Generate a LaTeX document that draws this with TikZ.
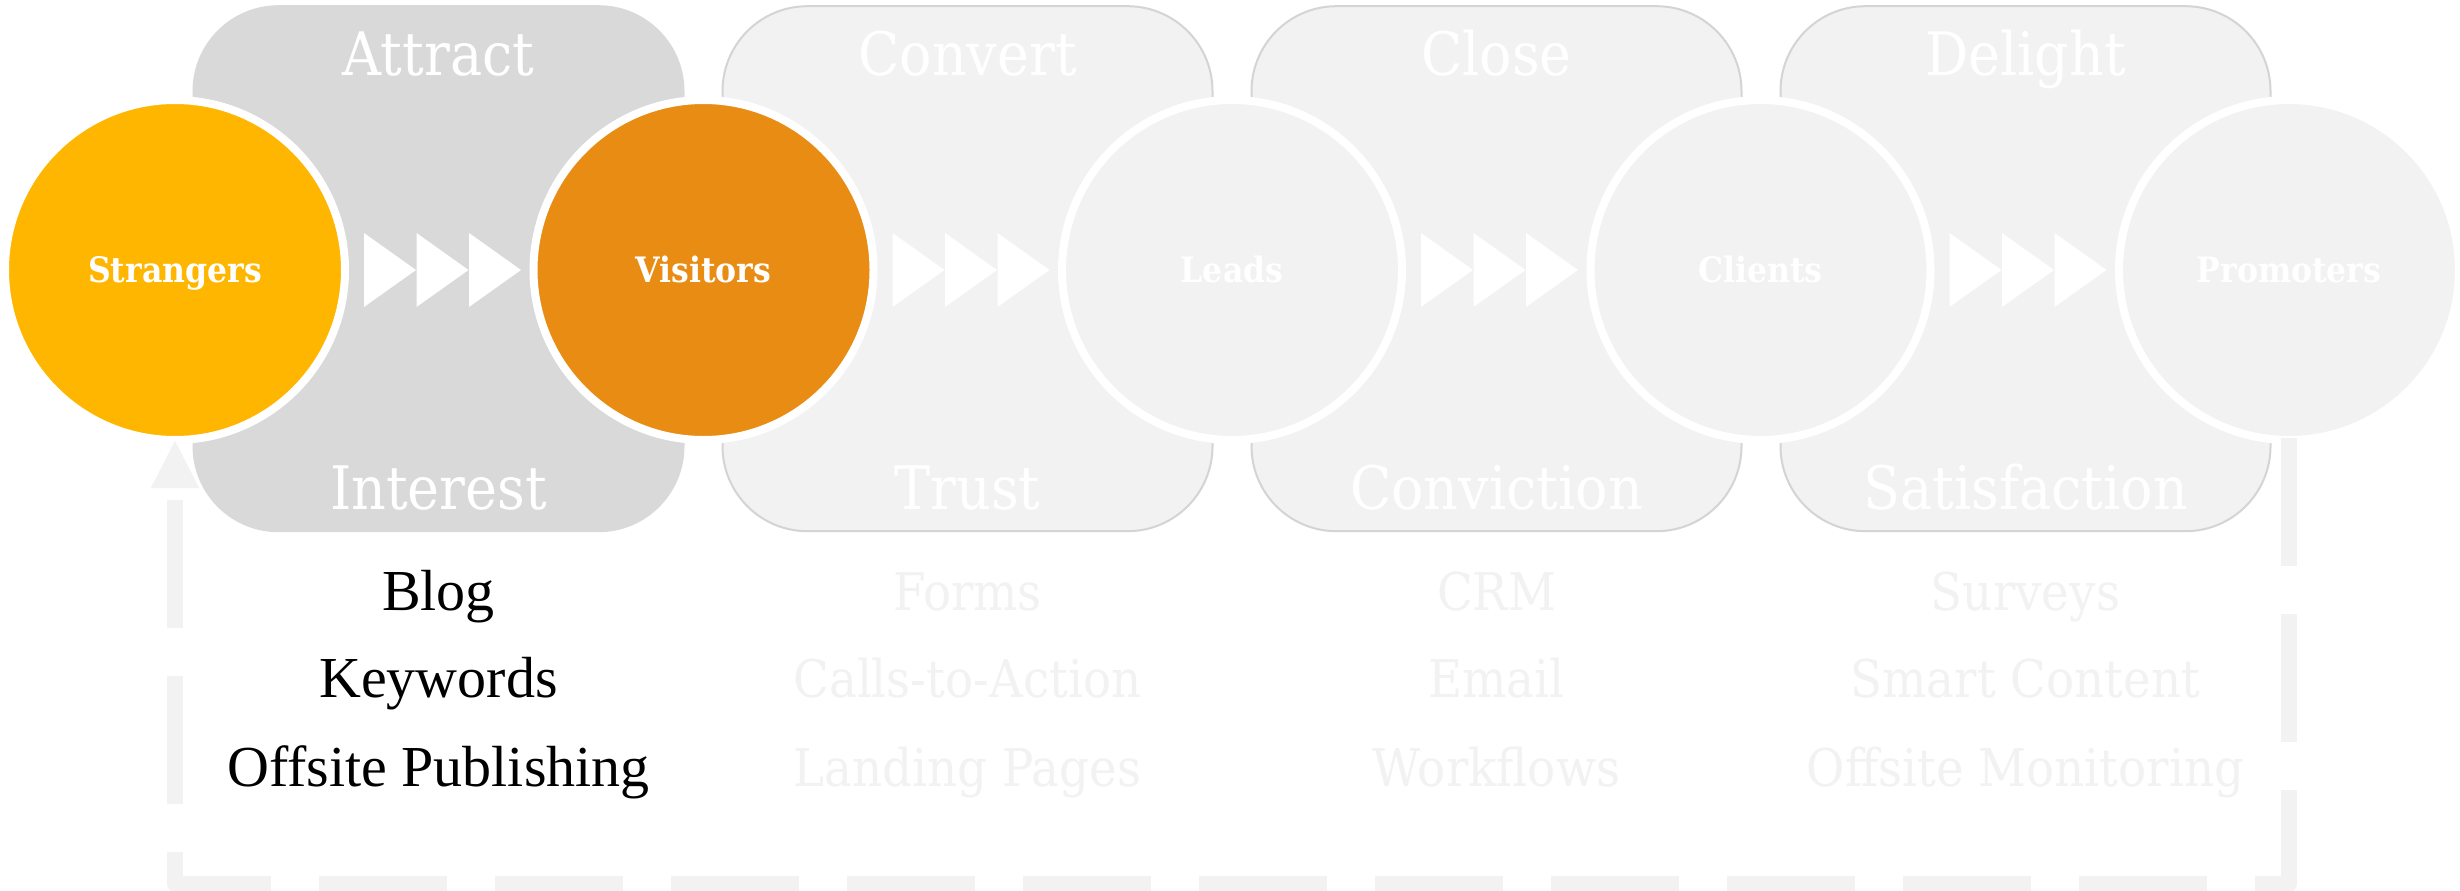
\documentclass[tikz,border=0pt]{standalone}
\usepackage{fontspec}
\setmainfont{Liberation Serif}
\newfontfamily\geo{DejaVu Serif}[FakeStretch=0.9]
\usetikzlibrary{arrows.meta}
\definecolor{amber}{HTML}{FFB600}
\definecolor{orangeC}{HTML}{E88C14}
\definecolor{midgray}{HTML}{D9D9D9}
\definecolor{lightgray}{HTML}{F2F2F2}
\definecolor{edgegray}{HTML}{D4D4D4}
\begin{document}
\begin{tikzpicture}[x=1pt,y=-1pt,
 stagebox/.style={rectangle, rounded corners=85pt, minimum width=490pt, minimum height=525pt, inner sep=0pt, line width=2pt, draw=edgegray, fill=lightgray},
 activebox/.style={stagebox, fill=midgray, draw=midgray},
 person/.style={circle, minimum size=340pt, inner sep=0pt, line width=8pt, draw=white, fill=lightgray, text=white, text height=25pt, text depth=0pt, font=\geo\bfseries\fontsize{35}{42}\selectfont},
 title/.style={anchor=base, inner sep=0pt, text=white, font=\geo\fontsize{60}{72}\selectfont},
 item/.style={anchor=base, inner sep=0pt, text=lightgray, font=\geo\fontsize{52}{62}\selectfont},
 activeitem/.style={anchor=base, inner sep=0pt, text=black, font=\fontsize{58}{70}\selectfont},
 loopline/.style={draw=lightgray, line width=16pt, dash pattern=on 128pt off 48pt, line join=round, -{Triangle[length=47pt,width=48pt,line width=0.1pt]}},
 chevron/.style={fill=white}
]
\useasboundingbox (0,0) rectangle (2460,891);
\fill[white] (0,0) rectangle (2460,891);

% stage boxes
\node[activebox] (attract) at (438.5,268.7) {};
\node[stagebox] (convert) at (967.5,268.7) {};
\node[stagebox] (close) at (1496.5,268.7) {};
\node[stagebox] (delight) at (2025.5,268.7) {};

% titles
\node[title] (tA) at (438.5,76) {Attract};
\node[title] (tC) at (967.5,76) {Convert};
\node[title] (tL) at (1496.5,76) {Close};
\node[title] (tD) at (2025.5,76) {Delight};
\node[title] (bA) at (438.5,509) {Interest};
\node[title] (bC) at (967.5,509) {Trust};
\node[title] (bL) at (1496.5,509) {Conviction};
\node[title] (bD) at (2025.5,509) {Satisfaction};

% circles
\node[person, fill=amber] (p1) at (175,270) {Strangers};
\node[person, fill=orangeC] (p2) at (703.5,270) {Visitors};
\node[person] (p3) at (1232,270) {Leads};
\node[person] (p4) at (1760.5,270) {Clients};
\node[person] (p5) at (2289,270) {Promoters};

% chevrons
\foreach \i in {1,2,3,4}{
  \foreach \j in {0,1,2}{
    \fill[chevron] ([xshift={189pt+52.5pt*\j}, yshift=37pt]p\i.center) -- ++(52,37) -- ++(-52,37) -- cycle;
  }
}

% lists
\node[activeitem] (a1) at (438.5,610) {Blog};
\node[activeitem] (a2) at (438.5,697) {Keywords};
\node[activeitem] (a3) at (438.5,786) {Offsite Publishing};
\node[item] (c1) at (967.5,610) {Forms};
\node[item] (c2) at (967.5,697) {Calls-to-Action};
\node[item] (c3) at (967.5,786) {Landing Pages};
\node[item] (l1) at (1496.5,610) {CRM};
\node[item] (l2) at (1496.5,697) {Email};
\node[item] (l3) at (1496.5,786) {Workflows};
\node[item] (d1) at (2025.5,610) {Surveys};
\node[item] (d2) at (2025.5,697) {Smart Content};
\node[item] (d3) at (2025.5,786) {Offsite Monitoring};

% loop back
\coordinate (bottom) at (0,884);
\draw[loopline] ([yshift=-168pt]p5.center) -- (p5.center |- bottom) -- (p1.center |- bottom) -- ([yshift=-171pt]p1.center);
\end{tikzpicture}
\end{document}
